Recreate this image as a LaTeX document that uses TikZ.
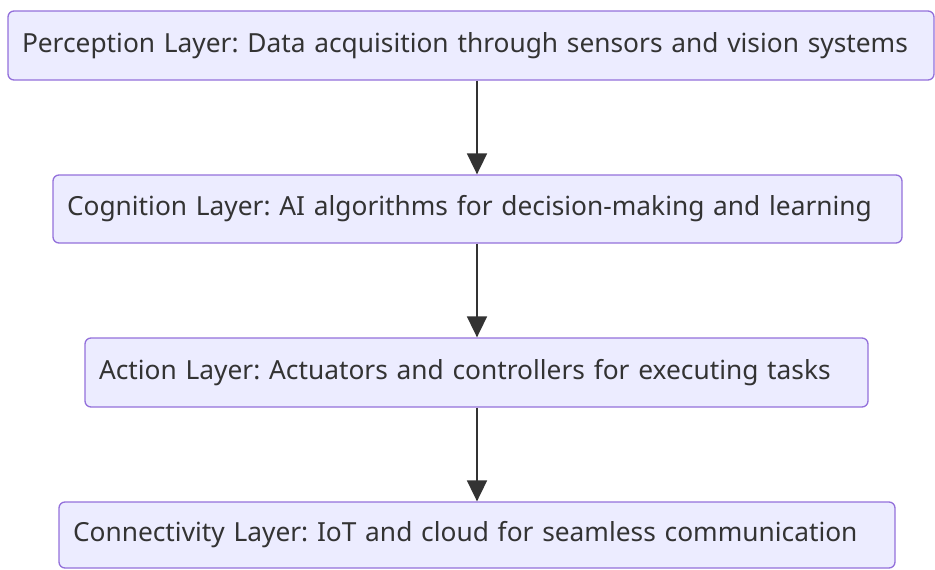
\documentclass[tikz,border=0pt]{standalone}
\usepackage{fontspec}
\setmainfont{Noto Sans}
\usepackage{tikz}
\usetikzlibrary{arrows.meta}

\definecolor{layerfill}{RGB}{236,236,255}
\definecolor{layerline}{RGB}{147,112,219}
\definecolor{layertext}{RGB}{51,51,51}

\begin{document}
\frenchspacing
\begin{tikzpicture}[x=1pt, y=-1pt,
    layer/.style={draw=layerline, fill=layerfill, line width=1.3pt, rounded corners=6pt,
        text=layertext, align=left, inner xsep=14pt, inner ysep=0pt,
        font=\fontsize{26.3}{30}\selectfont},
    flow/.style={draw=layertext, line width=1.8pt, -{Triangle[length=21pt, width=20pt]}}]
    \useasboundingbox (0,0) rectangle (935,570);

    % the four layers, top to bottom
    \node[layer, text width=898pt, minimum height=69pt] (perception) at (471,45.5)
        {Perception Layer: Data acquisition through sensors and vision systems};
    \node[layer, text width=821pt, minimum height=68pt] (cognition) at (477.5,209)
        {Cognition Layer: AI algorithms for decision-making and learning};
    \node[layer, text width=755pt, minimum height=69pt] (action) at (476.5,372.5)
        {Action Layer: Actuators and controllers for executing tasks};
    \node[layer, text width=808pt, minimum height=66pt] (connectivity) at (477,535)
        {Connectivity Layer: IoT and cloud for seamless communication};

    \foreach \a/\b in {perception/cognition, cognition/action, action/connectivity} {
        \draw[flow] (\a.south -| 477,0) -- (\b.north -| 477,0);
    }
\end{tikzpicture}
\end{document}
